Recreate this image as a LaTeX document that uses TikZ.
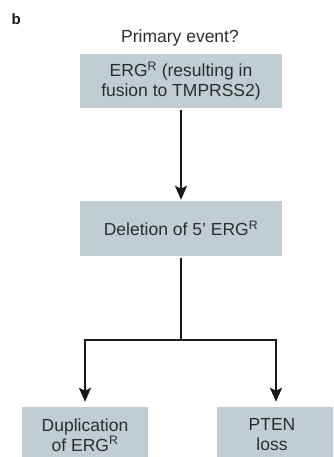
\documentclass[tikz,border=0pt]{standalone}
\usepackage{fontspec}
\setmainfont{Liberation Sans}
\usetikzlibrary{arrows.meta}
\definecolor{boxfill}{RGB}{192,205,211}
\definecolor{txt}{RGB}{45,45,45}
\definecolor{ln}{RGB}{25,25,25}
\tikzset{
  box/.style={fill=boxfill, draw=none, text=txt, align=center, inner sep=0pt,
    font=\fontsize{17.5pt}{20pt}\selectfont},
  conn/.style={draw=ln, line width=2.6pt, -{Stealth[length=14pt,width=12pt,inset=3pt]}},
  plain/.style={draw=ln, line width=2.6pt},
  lbl/.style={text=txt, inner sep=0pt, font=\fontsize{17.5pt}{20pt}\selectfont}
}
\begin{document}
\begin{tikzpicture}[x=1pt,y=-1pt]
\useasboundingbox (0,0) rectangle (333,457);
\clip (0,0) rectangle (333,457);
\node[anchor=base west, inner sep=0pt, text=ln, font=\fontsize{15pt}{16pt}\selectfont\bfseries] (b) at (11.5,25) {b};
\node[lbl, anchor=base] (q) at (180,43) {Primary event?};
\node[box, minimum width=202pt, minimum height=54pt] (b1) at (181,81) {ERG\textsuperscript{R} (resulting in\\fusion to TMPRSS2)};
\node[box, minimum width=202pt, minimum height=55pt] (b2) at (181,228.5) {Deletion of 5’ ERG\textsuperscript{R}};
\node[box, minimum width=126pt, minimum height=56pt] (b3) at (85,435) {Duplication\\of ERG\textsuperscript{R}};
\node[box, minimum width=118pt, minimum height=56pt] (b4) at (276,435) {\hspace*{-8pt}PTEN\\\hspace*{-8pt}loss};
\coordinate (split) at (181,340);
\draw[conn, shorten <=2pt, shorten >=1pt] (b1.south) -- (b2.north);
\draw[plain, shorten <=2pt] (b2.south) -- (split);
\draw[conn, shorten >=5pt] (split) -| (b3.north);
\draw[conn, shorten >=5pt] (split) -| (b4.north);
\end{tikzpicture}
\end{document}
